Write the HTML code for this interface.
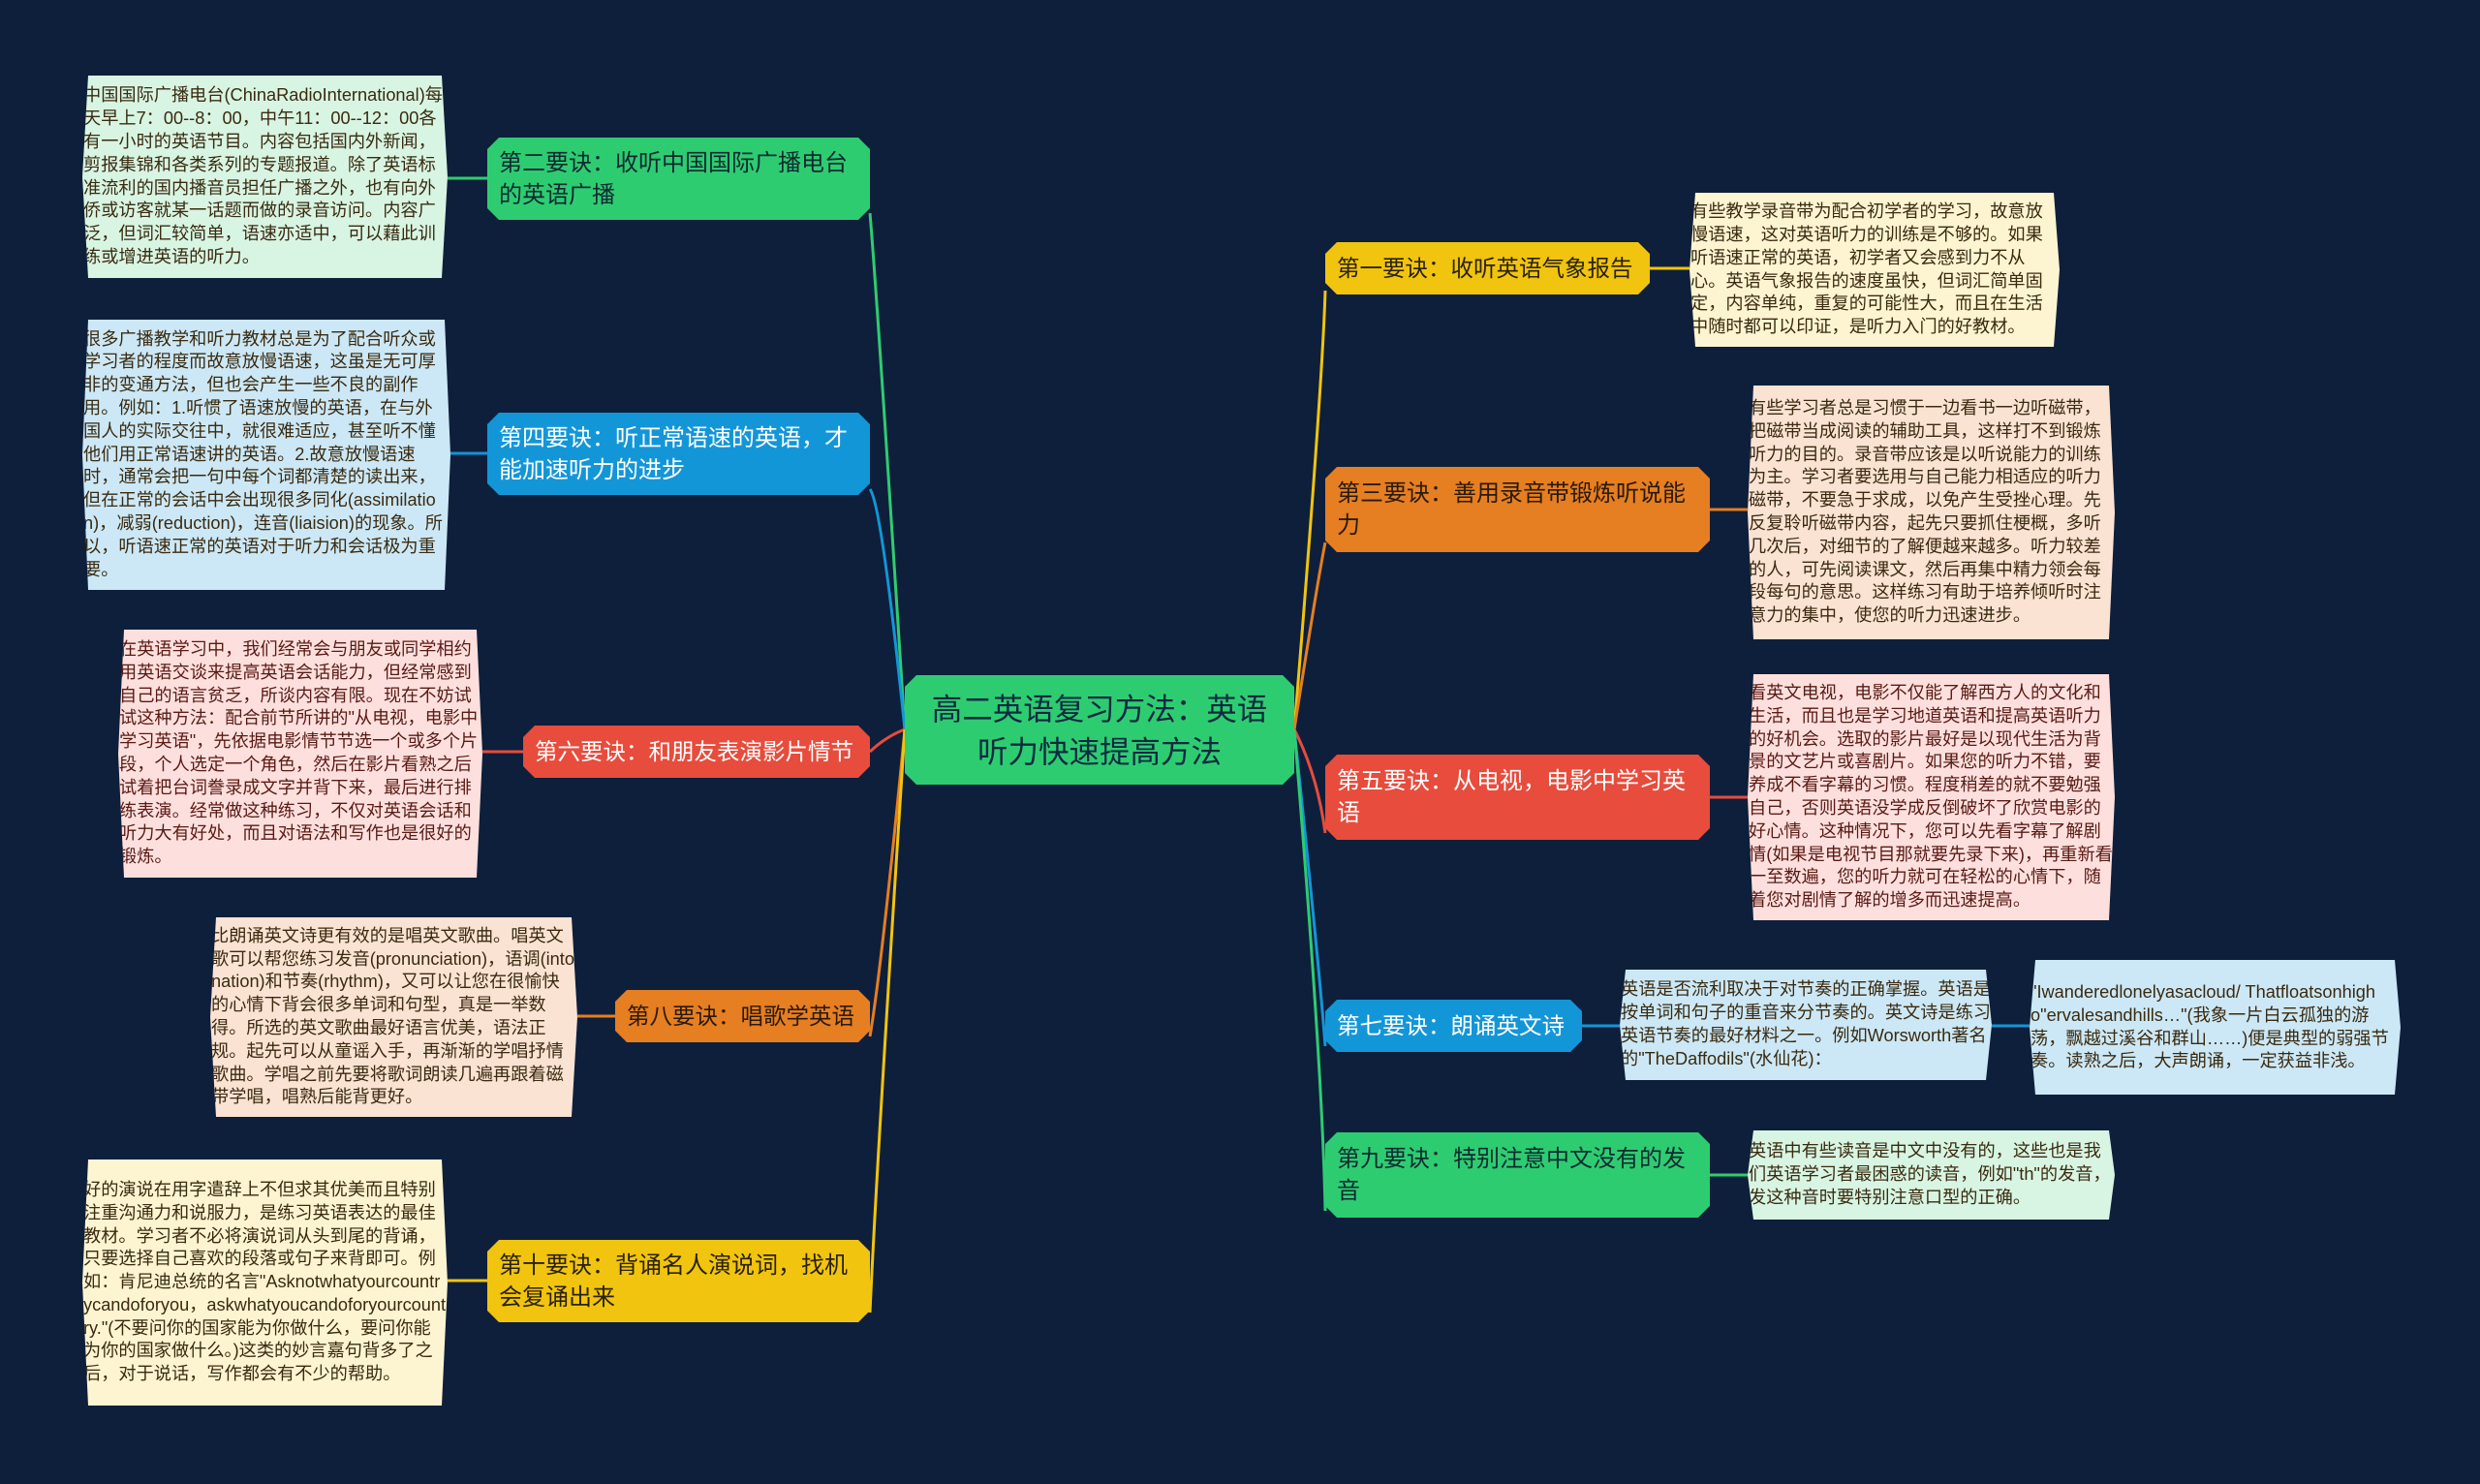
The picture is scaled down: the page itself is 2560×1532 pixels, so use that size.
<!DOCTYPE html>
<html><head><meta charset="utf-8"><style>
body{margin:0;width:2560px;height:1532px;background:#0e1f3b;overflow:hidden;font-family:"Liberation Sans","Noto Sans CJK SC",sans-serif;}
.b{position:absolute;box-sizing:border-box;display:flex;align-items:center;padding:0 12px;font-size:24px;line-height:33px;clip-path:polygon(12px 0,calc(100% - 12px) 0,100% 12px,100% calc(100% - 12px),calc(100% - 12px) 100%,12px 100%,0 calc(100% - 12px),0 12px);}
.s{white-space:nowrap;}
.n{position:absolute;box-sizing:border-box;display:flex;align-items:center;font-size:18.2px;line-height:23.8px;color:#3a2a10;word-break:break-all;clip-path:polygon(6px 0,calc(100% - 6px) 0,100% 50%,calc(100% - 6px) 100%,6px 100%,0 50%);padding:0 1px;}
.g{background:#2ecc71;color:#0e2a30}.bl{background:#1396d8;color:#fff}.r{background:#e74c3c;color:#fff}.o{background:#e67e22;color:#2a1a08}.y{background:#f1c40f;color:#2a2208}
</style></head><body>
<svg width="2560" height="1532" style="position:absolute;left:0;top:0" fill="none" stroke-width="3">
<path d="M934 753 Q905 300 898 220" stroke="#2ecc71"/>
<path d="M934 753 Q910 520 898 505" stroke="#1396d8"/>
<path d="M934 753 Q915 760 898 776" stroke="#e74c3c"/>
<path d="M934 753 Q910 1000 898 1070" stroke="#e67e22"/>
<path d="M934 753 Q905 1200 898 1355" stroke="#f1c40f"/>
<path d="M1336 753 Q1365 400 1368 300" stroke="#f1c40f"/>
<path d="M1336 753 Q1360 600 1368 560" stroke="#e67e22"/>
<path d="M1336 753 Q1360 800 1368 860" stroke="#e74c3c"/>
<path d="M1336 753 Q1362 1000 1368 1080" stroke="#1396d8"/>
<path d="M1336 753 Q1365 1100 1368 1250" stroke="#2ecc71"/>
<path d="M462 184 H503" stroke="#2ecc71"/><path d="M465 468 H503" stroke="#1396d8"/>
<path d="M498 776 H540" stroke="#e74c3c"/><path d="M596 1049 H635" stroke="#e67e22"/>
<path d="M462 1322 H503" stroke="#f1c40f"/><path d="M1703 277 H1744" stroke="#f1c40f"/>
<path d="M1765 526 H1804" stroke="#e67e22"/><path d="M1765 823 H1804" stroke="#e74c3c"/>
<path d="M1633 1059 H1672 M2056 1059 H2095" stroke="#1396d8"/><path d="M1765 1213 H1804" stroke="#2ecc71"/>
</svg>
<div class="b g" style="left:934px;top:697px;width:402px;height:113px;justify-content:center;text-align:center;font-size:31.5px;line-height:44px;color:#0e2a40">高二英语复习方法：英语<br>听力快速提高方法</div>
<div class="b g" style="left:503px;top:142px;width:395px;height:85px">第二要诀：收听中国国际广播电台的英语广播</div>
<div class="b bl" style="left:503px;top:426px;width:395px;height:85px">第四要诀：听正常语速的英语，才能加速听力的进步</div>
<div class="b r s" style="left:540px;top:749px;width:358px;height:54px;font-size:23.5px">第六要诀：和朋友表演影片情节</div>
<div class="b o s" style="left:635px;top:1022px;width:263px;height:54px;font-size:23.5px">第八要诀：唱歌学英语</div>
<div class="b y" style="left:503px;top:1280px;width:395px;height:85px">第十要诀：背诵名人演说词，找机会复诵出来</div>
<div class="b y s" style="left:1368px;top:250px;width:335px;height:54px;font-size:23.5px">第一要诀：收听英语气象报告</div>
<div class="b o" style="left:1368px;top:482px;width:397px;height:88px">第三要诀：善用录音带锻炼听说能力</div>
<div class="b r" style="left:1368px;top:779px;width:397px;height:88px">第五要诀：从电视，电影中学习英语</div>
<div class="b bl s" style="left:1368px;top:1032px;width:265px;height:54px;font-size:23.5px">第七要诀：朗诵英文诗</div>
<div class="b g" style="left:1368px;top:1169px;width:397px;height:88px">第九要诀：特别注意中文没有的发音</div>

<div class="n" style="left:85px;top:78px;width:377px;height:209px;background:#d8f5e3">中国国际广播电台(ChinaRadioInternational)每天早上7：00--8：00，中午11：00--12：00各有一小时的英语节目。内容包括国内外新闻，剪报集锦和各类系列的专题报道。除了英语标准流利的国内播音员担任广播之外，也有向外侨或访客就某一话题而做的录音访问。内容广泛，但词汇较简单，语速亦适中，可以藉此训练或增进英语的听力。</div>
<div class="n" style="left:85px;top:330px;width:380px;height:279px;background:#cce8f6">很多广播教学和听力教材总是为了配合听众或学习者的程度而故意放慢语速，这虽是无可厚非的变通方法，但也会产生一些不良的副作用。例如：1.听惯了语速放慢的英语，在与外国人的实际交往中，就很难适应，甚至听不懂他们用正常语速讲的英语。2.故意放慢语速时，通常会把一句中每个词都清楚的读出来，但在正常的会话中会出现很多同化(assimilation)，减弱(reduction)，连音(liaision)的现象。所以，听语速正常的英语对于听力和会话极为重要。</div>
<div class="n" style="left:122px;top:650px;width:376px;height:256px;background:#fde0de;color:#5a1a14">在英语学习中，我们经常会与朋友或同学相约用英语交谈来提高英语会话能力，但经常感到自己的语言贫乏，所谈内容有限。现在不妨试试这种方法：配合前节所讲的"从电视，电影中学习英语"，先依据电影情节节选一个或多个片段，个人选定一个角色，然后在影片看熟之后试着把台词誊录成文字并背下来，最后进行排练表演。经常做这种练习，不仅对英语会话和听力大有好处，而且对语法和写作也是很好的锻炼。</div>
<div class="n" style="left:217px;top:947px;width:379px;height:206px;background:#fbe3d4">比朗诵英文诗更有效的是唱英文歌曲。唱英文歌可以帮您练习发音(pronunciation)，语调(intonation)和节奏(rhythm)，又可以让您在很愉快的心情下背会很多单词和句型，真是一举数得。所选的英文歌曲最好语言优美，语法正规。起先可以从童谣入手，再渐渐的学唱抒情歌曲。学唱之前先要将歌词朗读几遍再跟着磁带学唱，唱熟后能背更好。</div>
<div class="n" style="left:85px;top:1197px;width:377px;height:254px;background:#fdf5d2">好的演说在用字遣辞上不但求其优美而且特别注重沟通力和说服力，是练习英语表达的最佳教材。学习者不必将演说词从头到尾的背诵，只要选择自己喜欢的段落或句子来背即可。例如：肯尼迪总统的名言"Asknotwhatyourcountrycandoforyou，askwhatyoucandoforyourcountry."(不要问你的国家能为你做什么，要问你能为你的国家做什么。)这类的妙言嘉句背多了之后，对于说话，写作都会有不少的帮助。</div>
<div class="n" style="left:1744px;top:199px;width:382px;height:159px;background:#fdf5d2">有些教学录音带为配合初学者的学习，故意放慢语速，这对英语听力的训练是不够的。如果听语速正常的英语，初学者又会感到力不从心。英语气象报告的速度虽快，但词汇简单固定，内容单纯，重复的可能性大，而且在生活中随时都可以印证，是听力入门的好教材。</div>
<div class="n" style="left:1804px;top:398px;width:379px;height:262px;background:#fbe3d4">有些学习者总是习惯于一边看书一边听磁带，把磁带当成阅读的辅助工具，这样打不到锻炼听力的目的。录音带应该是以听说能力的训练为主。学习者要选用与自己能力相适应的听力磁带，不要急于求成，以免产生受挫心理。先反复聆听磁带内容，起先只要抓住梗概，多听几次后，对细节的了解便越来越多。听力较差的人，可先阅读课文，然后再集中精力领会每段每句的意思。这样练习有助于培养倾听时注意力的集中，使您的听力迅速进步。</div>
<div class="n" style="left:1804px;top:696px;width:379px;height:254px;background:#fde0de;color:#5a1a14">看英文电视，电影不仅能了解西方人的文化和生活，而且也是学习地道英语和提高英语听力的好机会。选取的影片最好是以现代生活为背景的文艺片或喜剧片。如果您的听力不错，要养成不看字幕的习惯。程度稍差的就不要勉强自己，否则英语没学成反倒破坏了欣赏电影的好心情。这种情况下，您可以先看字幕了解剧情(如果是电视节目那就要先录下来)，再重新看一至数遍，您的听力就可在轻松的心情下，随着您对剧情了解的增多而迅速提高。</div>
<div class="n" style="left:1672px;top:1001px;width:384px;height:114px;background:#cce8f6">英语是否流利取决于对节奏的正确掌握。英语是按单词和句子的重音来分节奏的。英文诗是练习英语节奏的最好材料之一。例如Worsworth著名的"TheDaffodils"(水仙花)：</div>
<div class="n" style="left:2095px;top:991px;width:383px;height:139px;background:#cce8f6">"Iwanderedlonelyasacloud/ Thatfloatsonhigho"ervalesandhills…"(我象一片白云孤独的游荡，飘越过溪谷和群山……)便是典型的弱强节奏。读熟之后，大声朗诵，一定获益非浅。</div>
<div class="n" style="left:1804px;top:1167px;width:379px;height:92px;background:#d8f5e3">英语中有些读音是中文中没有的，这些也是我们英语学习者最困惑的读音，例如"th"的发音，发这种音时要特别注意口型的正确。</div>
</body></html>
